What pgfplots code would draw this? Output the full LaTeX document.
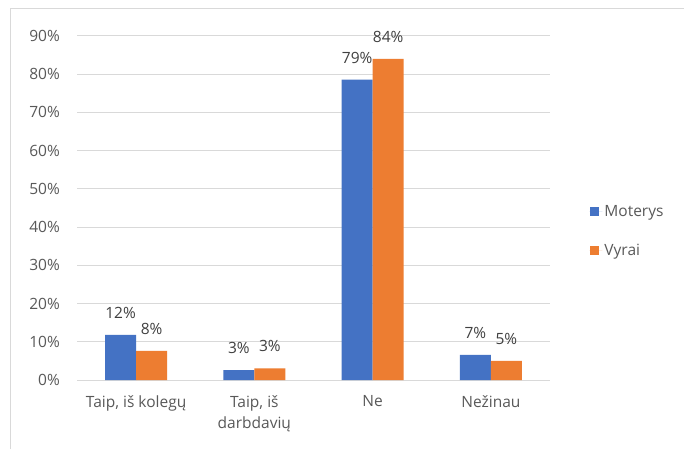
\documentclass[border=0pt]{standalone}
\usepackage{pgfplots}
\pgfplotsset{compat=1.18}
\usepackage{fontspec}
\setmainfont{Open Sans}
\definecolor{cblue}{HTML}{4472C4}
\definecolor{corange}{HTML}{ED7D31}
\definecolor{cgrid}{HTML}{D9D9D9}
\definecolor{ctext}{HTML}{595959}
\definecolor{clab}{HTML}{404040}
\begin{document}
\begin{tikzpicture}[x=1pt,y=1pt,font=\fontsize{15.5}{18}\selectfont]
\useasboundingbox (0,0) rectangle (684,449);
\fill[white] (0,0) rectangle (684,449);
\draw[cgrid, line width=1pt] (10,0) -- (10,440) -- (684,440);
\begin{axis}[
  at={(77pt,69pt)}, anchor=south west,
  scale only axis, width=473pt, height=344pt,
  ybar, bar width=31pt,
  xmin=-0.5, xmax=3.5, ymin=0, ymax=90,
  ytick={0,10,...,90},
  yticklabel={\pgfmathprintnumber{\tick}\%},
  /pgf/number format/assume math mode=true,
  xtick=data,
  xticklabels={{Taip, iš kolegų},{Taip, iš\\darbdavių},Ne,Nežinau},
  axis line style={draw=none},
  major tick length=0pt,
  ymajorgrids, grid style={cgrid, line width=1pt},
  yticklabel style={text=ctext, inner sep=0pt, xshift=-17pt},
  xticklabel style={text=ctext, inner sep=0pt, yshift=-15pt, align=center, font=\fontsize{15.5}{21}\selectfont},
  nodes near coords={\pgfmathprintnumber[fixed,precision=0]{\pgfplotspointmeta}\%},
  nodes near coords style={text=clab, anchor=south, inner sep=0pt, yshift=16pt, /pgf/number format/assume math mode=true},
  legend style={draw=none, fill=none, at={(1.083,0.433)}, anchor=west, row sep=22pt, text=ctext, inner sep=0pt,
    font=\fontsize{15.5}{18}\selectfont},
  legend cell align=left,
  legend image code/.code={\fill[#1] (1pt,-4.5pt) rectangle (10pt,4.5pt); \path (0pt,0pt) -- (13pt,0pt);},
]
\addplot[fill=cblue, draw=none, bar shift=-15.5pt] coordinates {(0,11.8) (1,2.6) (2,78.6) (3,6.6)};
\addplot[fill=corange, draw=none, bar shift=15.5pt] coordinates {(0,7.6) (1,3.05) (2,84.0) (3,5.0)};
\legend{Moterys,Vyrai}
\end{axis}
\end{tikzpicture}
\end{document}
